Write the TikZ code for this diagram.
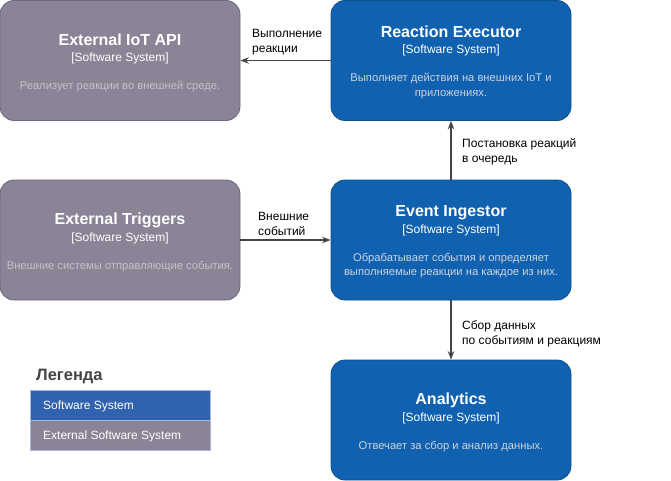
\documentclass[tikz,border=0pt]{standalone}
\usepackage{fontspec}
\setmainfont{Liberation Sans}
\usetikzlibrary{arrows.meta}
\definecolor{sysblue}{HTML}{1061B0}
\definecolor{sysblueb}{HTML}{0D4F8F}
\definecolor{extgrey}{HTML}{8B8496}
\definecolor{extgreyb}{HTML}{6E6780}
\definecolor{desctxt}{HTML}{CDD3DE}
\definecolor{desctxtg}{HTML}{C4C0CA}
\definecolor{legblue}{HTML}{3162AF}
\definecolor{legborder}{HTML}{A9B8D6}
\definecolor{linec}{HTML}{444444}
\tikzset{
  sysbox/.style={draw=sysblueb, fill=sysblue, line width=0.8pt, rounded corners=14pt,
    minimum width=240pt, minimum height=120pt, inner sep=0pt},
  extbox/.style={sysbox, draw=extgreyb, fill=extgrey},
  ttl/.style={anchor=base, inner sep=0pt, text=white, font=\fontsize{16}{19}\selectfont\bfseries},
  sub/.style={anchor=base, inner sep=0pt, text=white, font=\fontsize{12}{14}\selectfont},
  desc/.style={anchor=base, inner sep=0pt, text=desctxt, font=\fontsize{11.2}{14}\selectfont},
  descg/.style={desc, text=desctxtg},
  rel/.style={draw=linec, line width=1.4pt, -{Stealth[length=8.5pt,width=6.5pt]}},
  rellabel/.style={align=left, font=\fontsize{12}{15}\selectfont, inner sep=0pt, anchor=south west},
  legitem/.style={draw=legborder, line width=0.8pt, minimum width=180pt, minimum height=30pt,
    anchor=north west, inner sep=0pt},
  legtext/.style={anchor=west, inner sep=0pt, text=white, font=\fontsize{12}{14}\selectfont}
}
\begin{document}
\begin{tikzpicture}[x=1pt,y=-1pt]
\useasboundingbox (0,0) rectangle (671,481);
% boxes
\node[extbox] (iot) at (120,60.5) {};
\node[sysbox] (re) at (451,60.5) {};
\node[extbox] (trig) at (120,240) {};
\node[sysbox] (ei) at (451,240) {};
\node[sysbox] (an) at (451,420) {};
% External IoT API (top 1)
\node[ttl] (iot-t) at (120,46) {External IoT API};
\node[sub] (iot-s) at (120,62) {[Software System]};
\node[descg] (iot-d) at (120,90) {Реализует реакции во внешней среде.};
% Reaction Executor
\node[ttl] (re-t) at (451,37.5) {Reaction Executor};
\node[sub] (re-s) at (451,54) {[Software System]};
\node[desc] (re-d1) at (451,82) {Выполняет действия на внешних IoT и};
\node[desc] (re-d2) at (451,96.5) {приложениях.};
% External Triggers (top 180)
\node[ttl] (trig-t) at (120,224) {External Triggers};
\node[sub] (trig-s) at (120,241) {[Software System]};
\node[descg] (trig-d) at (120,269.5) {Внешние системы отправляющие события.};
% Event Ingestor
\node[ttl] (ei-t) at (451,216) {Event Ingestor};
\node[sub] (ei-s) at (451,233) {[Software System]};
\node[desc] (ei-d1) at (451,261) {Обрабатывает события и определяет};
\node[desc] (ei-d2) at (451,275.5) {выполняемые реакции на каждое из них.};
% Analytics (top 360)
\node[ttl] (an-t) at (451,404) {Analytics};
\node[sub] (an-s) at (451,421) {[Software System]};
\node[desc] (an-d) at (451,449) {Отвечает за сбор и анализ данных.};

\draw[rel] (re.west) -- (iot.east);
\draw[rel] (ei.north) -- (re.south);
\draw[rel] (trig.east) -- (ei.west);
\draw[rel] (ei.south) -- (an.north);

\node[rellabel] (l1) at (252,55.5) {Выполнение\\реакции};
\node[rellabel] (l2) at (462,165.5) {Постановка реакций\\в очередь};
\node[rellabel] (l3) at (258,236) {Внешние\\событий};
\node[rellabel] (l4) at (462,347) {Сбор данных\\по событиям и реакциям};

\node[anchor=west, font=\fontsize{16.5}{19}\selectfont\bfseries, text=linec, inner sep=0pt] (legt) at (36,376) {Легенда};
\node[legitem, fill=legblue] (lg1) at (30,390) {};
\node[legitem, fill=extgrey] (lg2) at (30,420) {};
\node[legtext] (lg1t) at (43,406) {Software System};
\node[legtext] (lg2t) at (43,436) {External Software System};
\end{tikzpicture}
\end{document}
